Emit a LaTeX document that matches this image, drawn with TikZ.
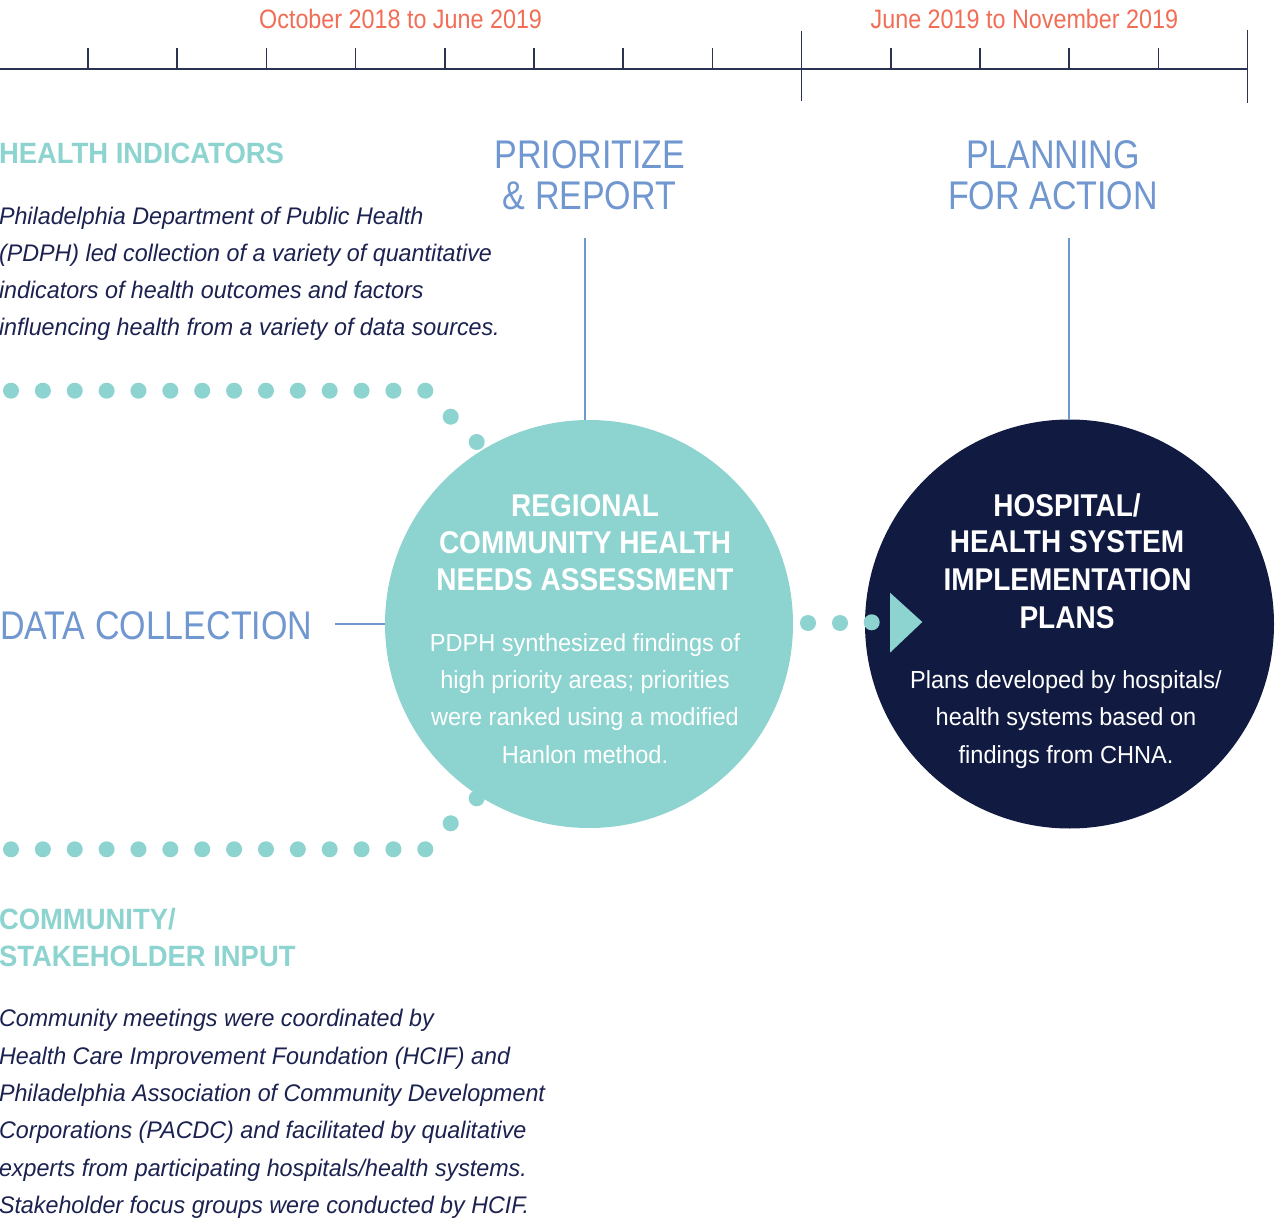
\documentclass[tikz,border=0pt]{standalone}
\usepackage{fontspec}
\setmainfont{Liberation Sans}
\newfontfamily\fTime[FakeStretch=0.875]{Liberation Sans}
\newfontfamily\fHead[FakeStretch=0.935]{Liberation Sans}
\newfontfamily\fPara[FakeStretch=0.97]{Liberation Sans}
\newfontfamily\fBig[FakeStretch=0.85]{Liberation Sans}
\newfontfamily\fCirB[FakeStretch=0.89]{Liberation Sans}
\newfontfamily\fCirN[FakeStretch=0.955]{Liberation Sans}
\definecolor{teal}{RGB}{141,211,207}
\definecolor{navy}{RGB}{17,27,66}
\definecolor{navytext}{RGB}{28,34,80}
\definecolor{lblue}{RGB}{112,151,208}
\definecolor{coral}{RGB}{242,109,85}
\definecolor{tline}{RGB}{43,51,83}
\tikzset{
  tl/.style={font=\fTime\fontsize{20}{24}\selectfont, text=coral, anchor=base},
  hd/.style={font=\fHead\bfseries\fontsize{22}{26}\selectfont, text=teal, anchor=base west},
  pa/.style={font=\fPara\itshape\fontsize{18}{22}\selectfont, text=navytext, anchor=base west},
  bigt/.style={font=\fBig\fontsize{30}{36}\selectfont, text=lblue, anchor=base},
  cb/.style={font=\fCirB\bfseries\fontsize{23.6}{28}\selectfont, text=white, anchor=base},
  cn/.style={font=\fCirN\fontsize{18.5}{22}\selectfont, text=white, anchor=base},
  conn/.style={draw=lblue, line width=1.1pt},
  dot/.style={fill=teal},
  tick/.style={draw=tline, line width=1.1pt},
}
\begin{document}
\begin{tikzpicture}[x=0.75pt,y=-0.75pt, every node/.style={inner sep=0pt, outer sep=0pt}]
\fill[white] (0,0) rectangle (1275,1220);
\useasboundingbox (0,0) rectangle (1275,1220);

% timeline
\draw[tline, line width=1.5pt] (0,69.3) -- (1247.6,69.3);
\foreach \k in {0,...,7,9,10,11,12} {
  \draw[tick] ({88+89.2*\k},48.3) -- ({88+89.2*\k},69.3);
}
\draw[tick] (801.6,30.7) -- (801.6,100.7);
\draw[tick] (1247.6,30) -- (1247.6,103);
\node[tl] (t1) at (400.6,28.3) {October 2018 to June 2019};
\node[tl] (t2) at (1024.4,28.3) {June 2019 to November 2019};

% circles
\node[circle, fill=teal, minimum size=306pt] (rc) at (589,624) {};
\node[circle, fill=navy, minimum size=306.75pt] (hc) at (1069.5,624) {};

% phase titles
\node[bigt] (pr1) at (590,168.5) {PRIORITIZE};
\node[bigt] (pr2) at (589.5,209.3) {\& REPORT};
\node[bigt] (pl1) at (1053,168.5) {PLANNING};
\node[bigt] (pl2) at (1053,209.3) {FOR ACTION};
\node[bigt, anchor=base west] (dc) at (0,639.5) {DATA COLLECTION};

\coordinate (prl) at (585,238.5);
\coordinate (pll) at (1069,238.5);
\coordinate (dcl) at (335,624);
\draw[conn] (prl) -- (prl |- rc.north);
\draw[conn] (pll) -- (pll |- hc.north);
\draw[conn] (dcl) -- (rc.west);

% left headings and texts
\node[hd] (hi) at (-1,164) {HEALTH INDICATORS};
\node[pa] (p1) at (-1,224.3) {Philadelphia Department of Public Health};
\node[pa] (p2) at (-1,261.5) {(PDPH) led collection of a variety of quantitative};
\node[pa] (p3) at (-1,298.5) {indicators of health outcomes and factors};
\node[pa] (p4) at (-1,335.3) {influencing health from a variety of data sources.};

\node[hd] (cs1) at (-1,929.5) {COMMUNITY/};
\node[hd] (cs2) at (-1,966) {STAKEHOLDER INPUT};
\node[pa] (q1) at (-1,1026.7) {Community meetings were coordinated by};
\node[pa] (q2) at (-1,1064.2) {Health Care Improvement Foundation (HCIF) and};
\node[pa] (q3) at (-1,1101.5) {Philadelphia Association of Community Development};
\node[pa] (q4) at (-1,1138.8) {Corporations (PACDC) and facilitated by qualitative};
\node[pa] (q5) at (-1,1176.1) {experts from participating hospitals/health systems.};
\node[pa] (q6) at (-1,1213.4) {Stakeholder focus groups were conducted by HCIF.};

% dots
\foreach \k in {0,...,13} {
  \fill[dot] ({11+31.87*\k},390.7) circle (8);
  \fill[dot] ({11+31.87*\k},849.3) circle (8);
}
\fill[dot] (450.7,416.7) circle (8);
\fill[dot] (476.7,442) circle (8);
\fill[dot] (450.7,823.3) circle (8);
\fill[dot] (476.7,798.3) circle (8);
\fill[dot] (808,623) circle (8);
\fill[dot] (840,623) circle (8);
\fill[dot] (871.7,622.3) circle (8);
\fill[teal] (890,592.7) -- (922.3,622) -- (890,652.7) -- cycle;

% circle texts
\node[cb] (r1) at (585,516) {REGIONAL};
\node[cb] (r2) at (585,553) {COMMUNITY HEALTH};
\node[cb] (r3) at (585,590) {NEEDS ASSESSMENT};
\node[cn] (r4) at (585,651.7) {PDPH synthesized findings of};
\node[cn] (r5) at (585,688.5) {high priority areas; priorities};
\node[cn] (r6) at (585,725.5) {were ranked using a modified};
\node[cn] (r7) at (585,763) {Hanlon method.};

\node[cb] (h1) at (1067,516) {HOSPITAL/};
\node[cb] (h2) at (1067,552.7) {HEALTH SYSTEM};
\node[cb] (h3) at (1067.5,590) {IMPLEMENTATION};
\node[cb] (h4) at (1067,628.3) {PLANS};
\node[cn] (h5) at (1066,688.3) {Plans developed by hospitals/};
\node[cn] (h6) at (1066,725.3) {health systems based on};
\node[cn] (h7) at (1066,763) {findings from CHNA.};
\end{tikzpicture}
\end{document}
